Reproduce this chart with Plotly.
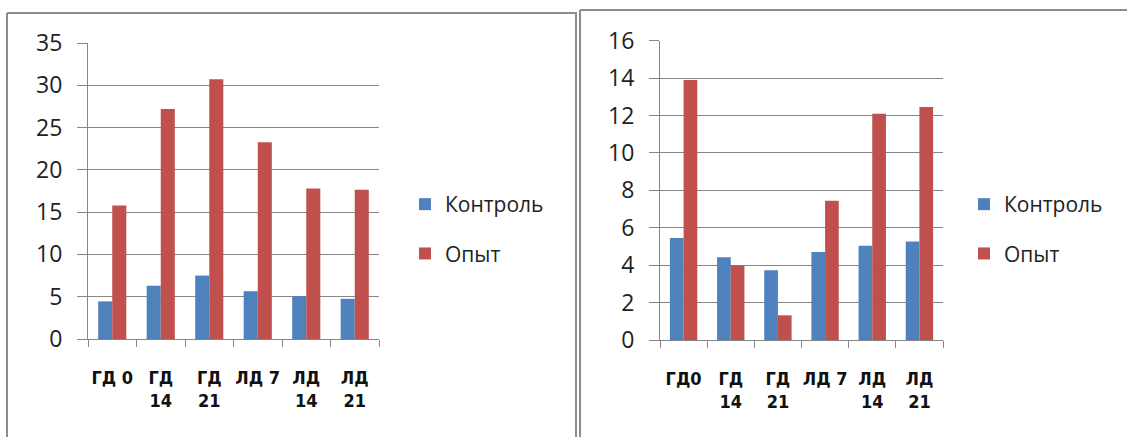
import plotly.graph_objects as go

W, H = 1127, 437

categories_left = ["ГД 0", "ГД<br>14", "ГД<br>21", "ЛД 7", "ЛД<br>14", "ЛД<br>21"]
categories_right = ["ГД0", "ГД<br>14", "ГД<br>21", "ЛД 7", "ЛД<br>14", "ЛД<br>21"]
control_left = [4.45, 6.3, 7.5, 5.65, 5.05, 4.75]
experiment_left = [15.8, 27.2, 30.7, 23.25, 17.8, 17.65]
control_right = [5.45, 4.42, 3.73, 4.7, 5.04, 5.26]
experiment_right = [13.9, 3.98, 1.32, 7.45, 12.1, 12.46]
series_names = ["Контроль", "Опыт"]
ticks_left = [0, 5, 10, 15, 20, 25, 30, 35]
ticks_right = [0, 2, 4, 6, 8, 10, 12, 14, 16]

BLUE = "#4F81BD"
RED = "#C0504D"
GRID = "#868686"
FRAME = "#8C8C8C"

fig = go.Figure()
fig.add_trace(go.Bar(x=categories_left, y=control_left, name=series_names[0],
                     marker=dict(color=BLUE, line=dict(width=0)),
                     xaxis="x", yaxis="y", legend="legend", legendgroup="a"))
fig.add_trace(go.Bar(x=categories_left, y=experiment_left, name=series_names[1],
                     marker=dict(color=RED, line=dict(width=0)),
                     xaxis="x", yaxis="y", legend="legend", legendgroup="b"))
fig.add_trace(go.Bar(x=categories_right, y=control_right, name=series_names[0],
                     marker=dict(color=BLUE, line=dict(width=0)),
                     xaxis="x2", yaxis="y2", legend="legend2", legendgroup="c"))
fig.add_trace(go.Bar(x=categories_right, y=experiment_right, name=series_names[1],
                     marker=dict(color=RED, line=dict(width=0)),
                     xaxis="x2", yaxis="y2", legend="legend2", legendgroup="d"))

ytick_font = dict(family="Open Sans, Noto Sans, sans-serif", size=23, color="#222222")
xtick_font = dict(family="Liberation Sans Narrow, Arial Narrow, DejaVu Sans Condensed, sans-serif",
                  size=18, color="#111111", weight="bold")
leg_font = dict(family="Open Sans, Noto Sans, sans-serif", size=21, color="#222222")

def xaxis(domain, anchor):
    return dict(domain=domain, anchor=anchor, type="category", automargin=False,
                showline=True, linecolor=GRID, linewidth=1,
                ticks="outside", tickson="boundaries", ticklen=7, tickcolor=GRID,
                tickwidth=1, showgrid=False, tickfont=xtick_font,
                tickangle=0, ticklabelstandoff=22, fixedrange=True)

def yaxis(domain, anchor, rng, tv):
    return dict(domain=domain, anchor=anchor, range=rng, tickvals=tv, automargin=False,
                showline=True, linecolor=GRID, linewidth=1,
                showgrid=True, gridcolor=GRID, gridwidth=1,
                ticks="outside", ticklen=10, tickcolor=GRID, tickwidth=1,
                tickfont=ytick_font, ticklabelstandoff=10, zeroline=False,
                fixedrange=True)

fig.update_layout(
    width=W, height=H, autosize=False,
    margin=dict(l=0, r=0, t=0, b=0, pad=0),
    paper_bgcolor="white", plot_bgcolor="white",
    barmode="group", bargap=0.42, bargroupgap=0,
    xaxis=xaxis([88 / W, 379 / W], "y"),
    yaxis=yaxis([(H - 339) / H, (H - 43) / H], "x", [0, 35], ticks_left),
    xaxis2=xaxis([660 / W, 943 / W], "y2"),
    yaxis2=yaxis([(H - 340) / H, (H - 40.7) / H], "x2", [0, 16], ticks_right),
    legend=dict(x=405 / W, y=1 - 229 / H, xanchor="left", yanchor="middle",
                font=leg_font, bgcolor="rgba(0,0,0,0)", tracegroupgap=19,
                itemclick=False, itemdoubleclick=False),
    legend2=dict(x=964 / W, y=1 - 229 / H, xanchor="left", yanchor="middle",
                 font=leg_font, bgcolor="rgba(0,0,0,0)", tracegroupgap=19,
                 itemclick=False, itemdoubleclick=False),
    showlegend=True,
)

def px_line(x0, y0, x1, y1):
    fig.add_shape(type="line", xref="paper", yref="paper",
                  x0=x0 / W, x1=x1 / W, y0=1 - y0 / H, y1=1 - y1 / H,
                  line=dict(color=FRAME, width=2))

# left frame
px_line(7, 13, 577, 13)
px_line(7, 13, 7, 440)
px_line(576, 13, 576, 440)
# right frame
px_line(580, 10, 1130, 10)
px_line(580, 10, 580, 440)

fig.write_html("out.html", config={"displayModeBar": False},
               post_script="document.body.style.margin='0px';document.body.style.overflow='hidden';")
